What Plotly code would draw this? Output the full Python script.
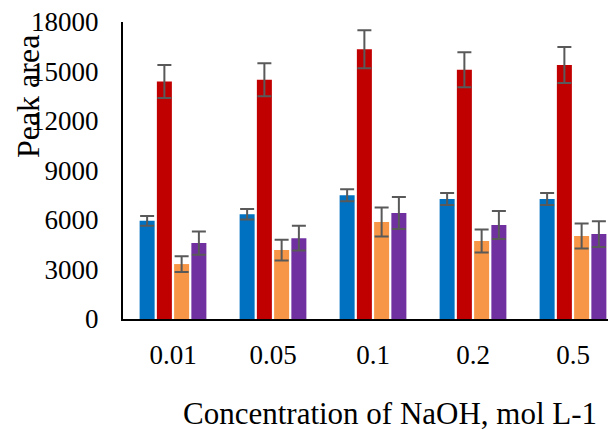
import plotly.graph_objects as go

categories = ["0.01", "0.05", "0.1", "0.2", "0.5"]
series_names = ["Series 1", "Series 2", "Series 3", "Series 4"]
s1 = [5950, 6350, 7500, 7270, 7270]
s1_err = [300, 320, 370, 360, 360]
s2 = [14400, 14500, 16350, 15100, 15400]
s2_err = [1000, 1000, 1150, 1060, 1090]
s3 = [3330, 4180, 5880, 4730, 5030]
s3_err = [480, 630, 880, 700, 760]
s4 = [4600, 4900, 6420, 5700, 5150]
s4_err = [700, 750, 970, 850, 780]
colors = ["#0070C0", "#C00000", "#F79646", "#7030A0"]
y_ticks = [0, 3000, 6000, 9000, 12000, 15000, 18000]

FONT = "Liberation Serif"
fig = go.Figure()
for name, vals, errs, col in zip(series_names, [s1, s2, s3, s4],
                                 [s1_err, s2_err, s3_err, s4_err], colors):
    fig.add_trace(go.Bar(
        x=categories, y=vals, name=name, marker=dict(color=col, line=dict(width=0)),
        error_y=dict(type="data", array=errs, visible=True, color="#595959",
                     thickness=2, width=7),
    ))

# page has an 8px body margin, so the figure is sized/offset to compensate
fig.update_layout(
    width=608, height=422,
    margin=dict(l=115, r=0, t=14, b=111, autoexpand=False),
    paper_bgcolor="white", plot_bgcolor="white",
    barmode="group", bargap=0.31, bargroupgap=0.13,
    showlegend=False,
    font=dict(family=FONT, size=27, color="black"),
    xaxis=dict(
        type="category", range=[-0.5, 4.43], showline=True, linecolor="black",
        linewidth=2, showgrid=False, ticks="", ticklabelstandoff=11,
        automargin=False,
        tickfont=dict(family=FONT, size=27, color="black"),
    ),
    yaxis=dict(
        range=[0, 18000], tickvals=y_ticks, ticktext=[str(v) for v in y_ticks],
        showline=True, linecolor="black", linewidth=2, showgrid=False,
        zeroline=False, ticks="", ticklabelstandoff=17, automargin=False,
        ticklabeloverflow="allow",
        tickfont=dict(family=FONT, size=27, color="black"),
    ),
    annotations=[
        dict(text="Peak area", xref="paper", yref="paper", x=-0.193, y=0.75,
             xanchor="center", yanchor="middle", textangle=-90, showarrow=False,
             font=dict(family=FONT, size=32, color="black")),
        dict(text="Concentration of NaOH, mol L-1", xref="paper", yref="paper",
             x=0.5406, y=-0.3165, xanchor="center", yanchor="middle", showarrow=False,
             font=dict(family=FONT, size=31, color="black")),
    ],
)

fig.write_html("out.html")
